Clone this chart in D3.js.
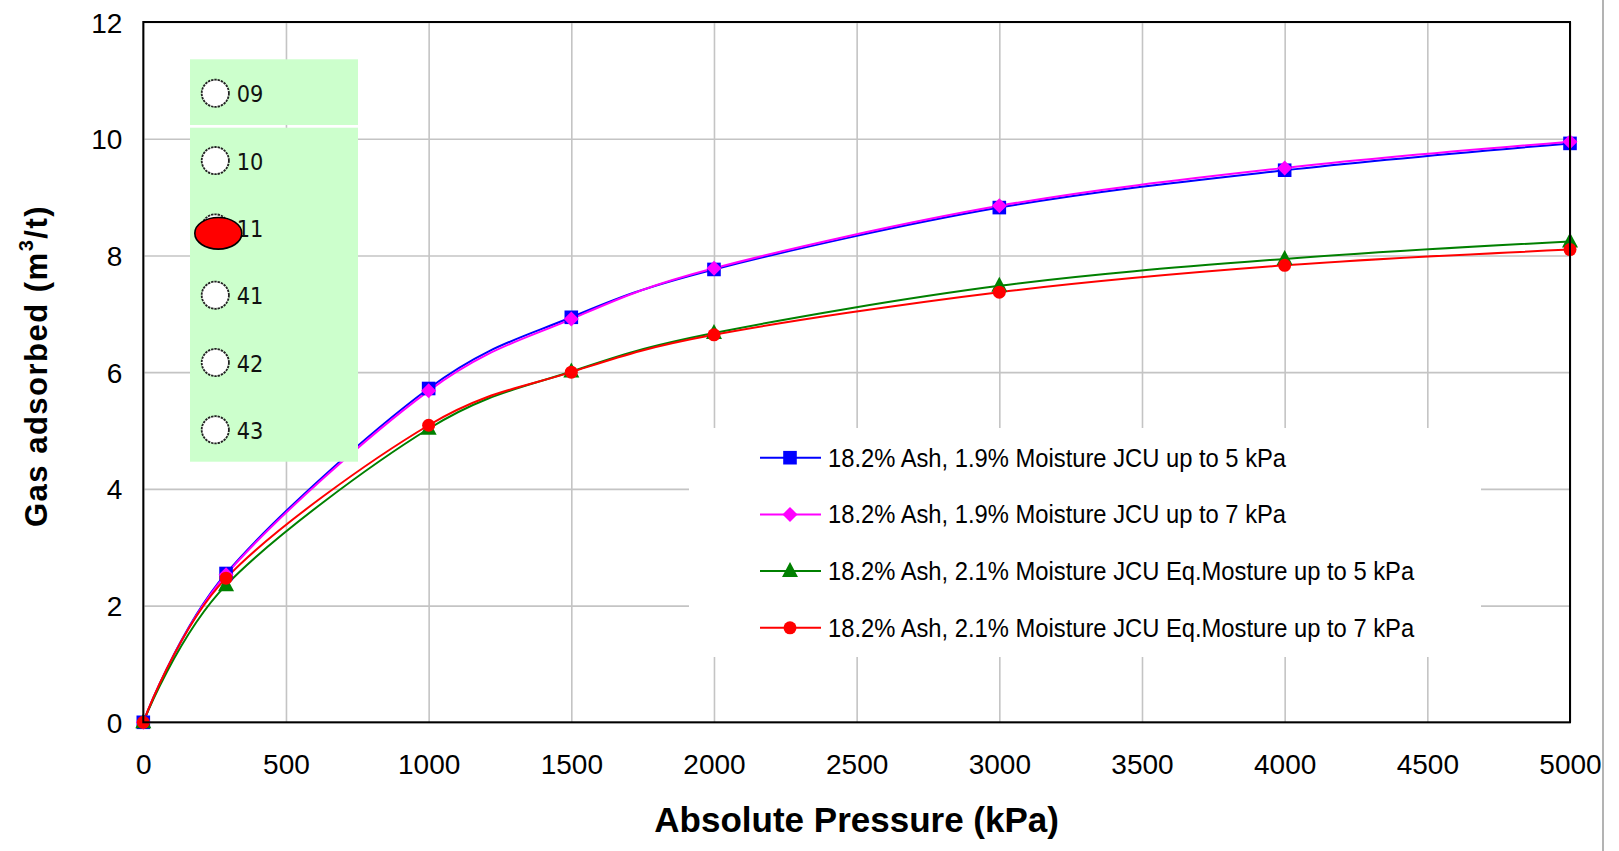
<!DOCTYPE html>
<html>
<head>
<meta charset="utf-8">
<script src="https://cdn.jsdelivr.net/npm/d3@7"></script>
<style>
  html, body { margin: 0; padding: 0; background: #fff; }
  svg { display: block; }
</style>
</head>
<body>
<svg id="chart" width="1619" height="851"></svg>
<script>
// ---- data ----
const pressureKPa = [0, 290, 1000, 1500, 2000, 3000, 4000, 5000];
const ash19to5 = [0, 2.55, 5.72, 6.94, 7.76, 8.82, 9.46, 9.92];
const ash19to7 = [0, 2.53, 5.68, 6.91, 7.78, 8.85, 9.50, 9.95];
const ash21to5 = [0, 2.35, 5.03, 6.01, 6.67, 7.48, 7.94, 8.24];
const ash21to7 = [0, 2.47, 5.09, 6.00, 6.64, 7.37, 7.83, 8.10];
const seriesNames = [
  "18.2% Ash, 1.9% Moisture JCU up to 5 kPa",
  "18.2% Ash, 1.9% Moisture JCU up to 7 kPa",
  "18.2% Ash, 2.1% Moisture JCU Eq.Mosture up to 5 kPa",
  "18.2% Ash, 2.1% Moisture JCU Eq.Mosture up to 7 kPa"
];
const xTicks = [0, 500, 1000, 1500, 2000, 2500, 3000, 3500, 4000, 4500, 5000];
const yTicks = [0, 2, 4, 6, 8, 10, 12];
const sampleOptions = ["09", "10", "11", "41", "42", "43"];
const selectedSample = "11";

// ---- layout ----
const svg = d3.select("#chart");
const plot = { left: 143.3, right: 1570, top: 22, bottom: 722.3 };
const x = d3.scaleLinear().domain([0, 5000]).range([plot.left, plot.right]);
const y = d3.scaleLinear().domain([0, 12]).range([plot.bottom, plot.top]);

const FONT = "'Liberation Sans', Arial, sans-serif";

function condense(sel, f) {
  sel.each(function () {
    const w = this.getComputedTextLength();
    d3.select(this).attr("textLength", w * f).attr("lengthAdjust", "spacingAndGlyphs");
  });
}

// marker shapes
const shapes = {
  square: "M-6.8,-6.8H6.8V6.8H-6.8Z",
  diamond: "M0,-7.5L7.5,0L0,7.5L-7.5,0Z",
  triangle: "M0,-9L8,6L-8,6Z",
  circle: d3.symbol(d3.symbolCircle, Math.PI * 6.5 * 6.5)()
};

const series = [
  { name: seriesNames[0], values: ash19to5, color: "#0000ff", shape: "square" },
  { name: seriesNames[1], values: ash19to7, color: "#ff00ff", shape: "diamond" },
  { name: seriesNames[2], values: ash21to5, color: "#008000", shape: "triangle" },
  { name: seriesNames[3], values: ash21to7, color: "#ff0000", shape: "circle" }
];

// ---- grid ----
const grid = svg.append("g").attr("class", "grid");
grid.append("g")
  .attr("transform", `translate(0,${plot.bottom})`)
  .call(d3.axisBottom(x).tickValues(xTicks).tickSize(-(plot.bottom - plot.top)).tickFormat(""))
  .call(g => g.select(".domain").remove())
  .call(g => g.selectAll("line").attr("stroke", "#c4c4c4").attr("stroke-width", 1.6));
grid.append("g")
  .attr("transform", `translate(${plot.left},0)`)
  .call(d3.axisLeft(y).tickValues(yTicks).tickSize(-(plot.right - plot.left)).tickFormat(""))
  .call(g => g.select(".domain").remove())
  .call(g => g.selectAll("line").attr("stroke", "#c4c4c4").attr("stroke-width", 1.6));

// ---- legend background ----
svg.append("rect")
  .attr("x", 689).attr("y", 428).attr("width", 792).attr("height", 229)
  .attr("fill", "#ffffff");

// ---- series ----
const line = d3.line()
  .x((d, i) => x(pressureKPa[i]))
  .y(d => y(d))
  .curve(d3.curveCatmullRom.alpha(0));

const sg = svg.append("g").attr("class", "series");
series.forEach(s => {
  sg.append("path")
    .attr("d", line(s.values))
    .attr("fill", "none")
    .attr("stroke", s.color)
    .attr("stroke-width", 2);
});
series.forEach(s => {
  sg.append("g").selectAll("path")
    .data(s.values)
    .join("path")
    .attr("d", shapes[s.shape])
    .attr("transform", (d, i) => `translate(${x(pressureKPa[i])},${y(d)})`)
    .attr("fill", s.color);
});

// ---- sample selector panel ----
const panel = svg.append("g").attr("class", "selector");
panel.append("rect").attr("x", 190).attr("y", 59.3).attr("width", 168).attr("height", 65.7).attr("fill", "#ccffcc");
panel.append("rect").attr("x", 190).attr("y", 127.7).attr("width", 168).attr("height", 334).attr("fill", "#ccffcc");

const rowY = d3.scaleLinear().domain([0, sampleOptions.length - 1]).range([93.3, 429.8]);
const opt = panel.selectAll("g.opt").data(sampleOptions).join("g")
  .attr("class", "opt")
  .attr("transform", (d, i) => `translate(0,${rowY(i)})`);
opt.append("circle")
  .attr("cx", 215.3).attr("cy", 0).attr("r", 13.6)
  .attr("fill", "#ffffff")
  .attr("stroke", "#222")
  .attr("stroke-width", 1.8)
  .attr("stroke-dasharray", "2.4,0.9");
const optText = opt.append("text")
  .attr("x", 236.7).attr("y", 9)
  .attr("font-family", "'DejaVu Sans', Verdana, sans-serif")
  .attr("font-size", 23)
  .attr("fill", "#111")
  .text(d => d);
condense(optText, 0.91);
opt.filter(d => d === selectedSample)
  .append("ellipse")
  .attr("cx", 218.3).attr("cy", 5.4).attr("rx", 23.5).attr("ry", 15.8)
  .attr("fill", "#ff0000").attr("stroke", "#000").attr("stroke-width", 1.6);

// ---- frame ----
svg.append("rect")
  .attr("x", plot.left).attr("y", plot.top)
  .attr("width", plot.right - plot.left).attr("height", plot.bottom - plot.top)
  .attr("fill", "none").attr("stroke", "#000").attr("stroke-width", 2);

// ---- axes labels ----
const xAxis = svg.append("g")
  .attr("transform", `translate(0,${plot.bottom})`)
  .call(d3.axisBottom(x).tickValues(xTicks).tickSize(0).tickPadding(0).tickFormat(d3.format("d")));
xAxis.select(".domain").remove();
xAxis.selectAll("text")
  .attr("y", 52).attr("dy", null)
  .attr("font-family", FONT).attr("font-size", 28).attr("fill", "#000");

const yAxis = svg.append("g")
  .attr("transform", `translate(${plot.left},0)`)
  .call(d3.axisLeft(y).tickValues(yTicks).tickSize(0).tickPadding(0).tickFormat(d3.format("d")));
yAxis.select(".domain").remove();
yAxis.selectAll("text")
  .attr("x", -21).attr("dy", 10)
  .attr("font-family", FONT).attr("font-size", 28).attr("fill", "#000");

// axis titles
svg.append("text")
  .attr("x", (plot.left + plot.right) / 2).attr("y", 831.5)
  .attr("text-anchor", "middle")
  .attr("font-family", FONT).attr("font-weight", "bold").attr("font-size", 35)
  .attr("fill", "#000")
  .text("Absolute Pressure (kPa)");

const yTitle = svg.append("text")
  .attr("transform", "translate(47,366) rotate(-90)")
  .attr("text-anchor", "middle")
  .attr("font-family", FONT).attr("font-weight", "bold").attr("font-size", 31)
  .attr("letter-spacing", 1.5)
  .attr("fill", "#000");
yTitle.append("tspan").text("Gas adsorbed (m");
yTitle.append("tspan").attr("font-size", 20).attr("dy", -14).text("3");
yTitle.append("tspan").attr("dy", 14).text("/t)");

// ---- legend ----
const legRow = d3.scaleLinear().domain([0, series.length - 1]).range([457.7, 627.8]);
const leg = svg.append("g").attr("class", "legend").selectAll("g")
  .data(series).join("g")
  .attr("transform", (d, i) => `translate(0,${legRow(i)})`);
leg.append("line")
  .attr("x1", 760).attr("x2", 821).attr("y1", 0).attr("y2", 0)
  .attr("stroke", d => d.color).attr("stroke-width", 2);
leg.append("path")
  .attr("d", d => shapes[d.shape])
  .attr("transform", "translate(790,0)")
  .attr("fill", d => d.color);
const legText = leg.append("text")
  .attr("x", 828).attr("y", 9)
  .attr("font-family", FONT).attr("font-size", 25)
  .attr("fill", "#000")
  .text(d => d.name);
condense(legText, 0.95);

// right-hand edge line
svg.append("line")
  .attr("x1", 1603).attr("x2", 1603).attr("y1", 0).attr("y2", 851)
  .attr("stroke", "#9a9a9a").attr("stroke-width", 1.5);
</script>
</body>
</html>
